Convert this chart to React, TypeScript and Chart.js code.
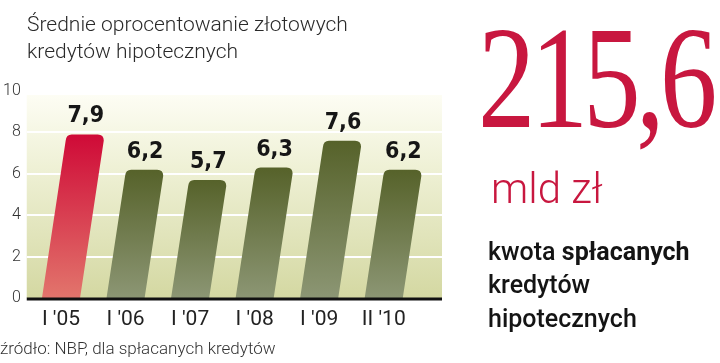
import React, { useEffect, useRef } from "react";
import { Chart, registerables } from "chart.js";

Chart.register(...registerables);

const categories = ["I '05", "I '06", "I '07", "I '08", "I '09", "II '10"];
const rates = [7.9, 6.2, 5.7, 6.3, 7.6, 6.2];
const highlighted = [true, false, false, false, false, false];
const yTicks = [0, 2, 4, 6, 8, 10];
const titleLines = ["Średnie oprocentowanie złotowych", "kredytów hipotecznych"];
const bigValue = "215,6";
const bigUnit = "mld zł";
const sourceText = "źródło: NBP, dla spłacanych kredytów";

const CRIMSON = "#c8173f";

const slantPlugin = {
  id: "slantBars",
  beforeDatasetsDraw(chart: any) {
    const { ctx, chartArea, scales } = chart;
    const y = scales.y;
    const left = chartArea.left - 2;
    const right = chartArea.right + 26;
    const top = y.getPixelForValue(10) + 4;
    const bottom = chartArea.bottom;
    ctx.save();
    const g = ctx.createLinearGradient(0, top, 0, bottom);
    g.addColorStop(0, "#fdfdf4");
    g.addColorStop(0.35, "#eff1d6");
    g.addColorStop(1, "#d4d8a2");
    ctx.fillStyle = g;
    ctx.fillRect(left, top, right - left, bottom - top);
    ctx.strokeStyle = "#ffffff";
    ctx.lineWidth = 2;
    yTicks.forEach((t) => {
      if (t === 0 || t === 10) return;
      const py = Math.round(y.getPixelForValue(t));
      ctx.beginPath();
      ctx.moveTo(left, py);
      ctx.lineTo(right, py);
      ctx.stroke();
    });
    ctx.restore();
  },
  afterDatasetsDraw(chart: any) {
    const { ctx, chartArea } = chart;
    const meta = chart.getDatasetMeta(0);
    ctx.save();
    meta.data.forEach((el: any, i: number) => {
      const { x, y, base, width } = el.getProps(["x", "y", "base", "width"], true);
      const h = base - y;
      const shift = h * 0.145;
      const r = 6;
      const bl = x - width / 2;
      const br = x + width / 2;
      const tl = bl + shift;
      const tr = br + shift;
      const g = ctx.createLinearGradient(0, y, 0, base);
      if (highlighted[i]) {
        g.addColorStop(0, "#cf0a37");
        g.addColorStop(1, "#e2756c");
      } else {
        g.addColorStop(0, "#56622a");
        g.addColorStop(1, "#8c9674");
      }
      ctx.fillStyle = g;
      ctx.beginPath();
      ctx.moveTo(bl, base);
      ctx.lineTo(tl, y + r);
      ctx.quadraticCurveTo(tl + 0.5, y, tl + r, y);
      ctx.lineTo(tr - r, y);
      ctx.quadraticCurveTo(tr, y, tr, y + r);
      ctx.lineTo(br, base);
      ctx.closePath();
      ctx.fill();

      ctx.fillStyle = "#161616";
      ctx.font = "bold 23px 'DejaVu Sans Condensed', 'DejaVu Sans', sans-serif";
      ctx.textAlign = "center";
      ctx.textBaseline = "alphabetic";
      ctx.fillText(String(rates[i]).replace(".", ","), x + shift + 1, y - 12);
    });
    ctx.fillStyle = "#111111";
    ctx.fillRect(chartArea.left - 2, chartArea.bottom - 0.5, chartArea.right + 28 - chartArea.left, 3);
    ctx.restore();
  },
};

function Txt(props: {
  x: number;
  baseline: number;
  size: number;
  family: string;
  weight?: number;
  color: string;
  ratio: number;
  scaleX?: number;
  spacing?: number;
  children: React.ReactNode;
}) {
  const { x, baseline, size, family, weight = 400, color, ratio, scaleX = 1, spacing = 0, children } = props;
  return (
    <div
      style={{
        position: "absolute",
        left: x,
        top: baseline - ratio * size,
        fontSize: size,
        lineHeight: size + "px",
        fontFamily: family,
        fontWeight: weight,
        color,
        whiteSpace: "nowrap",
        letterSpacing: spacing,
        transform: scaleX !== 1 ? `scaleX(${scaleX})` : undefined,
        transformOrigin: "0 0",
      }}
    >
      {children}
    </div>
  );
}

export default function App() {
  const ref = useRef<HTMLCanvasElement | null>(null);

  useEffect(() => {
    if (!ref.current) return;
    const chart = new Chart(ref.current, {
      type: "bar",
      data: {
        labels: categories,
        datasets: [
          {
            data: rates,
            backgroundColor: "rgba(0,0,0,0)",
            borderWidth: 0,
            categoryPercentage: 1,
            barPercentage: 0.59,
          },
        ],
      },
      options: {
        animation: false,
        responsive: false,
        devicePixelRatio: 1,
        layout: { padding: { left: 0, top: 91, right: 304, bottom: 25 } },
        plugins: { legend: { display: false }, tooltip: { enabled: false } },
        scales: {
          x: {
            grid: { display: false, drawTicks: false },
            border: { display: false },
            ticks: {
              padding: 9,
              color: "#222222",
              font: { family: "Roboto", size: 21, weight: "normal" as any },
              maxRotation: 0,
              autoSkip: false,
            },
            afterFit: (s: any) => {
              s.height = 40;
            },
          },
          y: {
            min: 0,
            max: 10,
            grid: { display: false, drawTicks: false },
            border: { display: false },
            ticks: {
              stepSize: 2,
              padding: 8,
              color: "#333333",
              font: { family: "Roboto", size: 16, weight: "300" as any },
            },
            afterFit: (s: any) => {
              s.width = 28.75;
            },
          },
        },
      },
      plugins: [slantPlugin],
    });
    return () => chart.destroy();
  }, []);

  return (
    <div
      style={{
        position: "fixed",
        left: 0,
        top: 0,
        width: 720,
        height: 363,
        background: "#ffffff",
        overflow: "hidden",
      }}
    >
      <canvas ref={ref} width={720} height={363} style={{ position: "absolute", left: 0, top: 0 }} />
      <Txt x={27} baseline={32} size={21} family="Roboto" weight={300} color="#2a2a2a" ratio={0.842}>
        {titleLines[0]}
      </Txt>
      <Txt x={27} baseline={59} size={21} family="Roboto" weight={300} color="#2a2a2a" ratio={0.842}>
        {titleLines[1]}
      </Txt>
      <Txt
        x={478}
        baseline={127}
        size={147}
        family="'Liberation Serif', serif"
        color={CRIMSON}
        ratio={0.8375}
        scaleX={0.78}
        spacing={-6}
      >
        {bigValue}
      </Txt>
      <Txt x={491} baseline={203} size={42} family="Roboto" weight={300} color={CRIMSON} ratio={0.842}>
        {bigUnit}
      </Txt>
      <Txt x={488} baseline={260} size={25} family="Roboto" weight={500} color="#141414" ratio={0.842}>
        kwota <span style={{ fontWeight: 700 }}>spłacanych</span>
      </Txt>
      <Txt x={488} baseline={293} size={25} family="Roboto" weight={500} color="#141414" ratio={0.842}>
        kredytów
      </Txt>
      <Txt x={488} baseline={327} size={25} family="Roboto" weight={500} color="#141414" ratio={0.842}>
        hipotecznych
      </Txt>
      <Txt x={0} baseline={354} size={17} family="Roboto" weight={300} color="#333333" ratio={0.842}>
        {sourceText}
      </Txt>
    </div>
  );
}
